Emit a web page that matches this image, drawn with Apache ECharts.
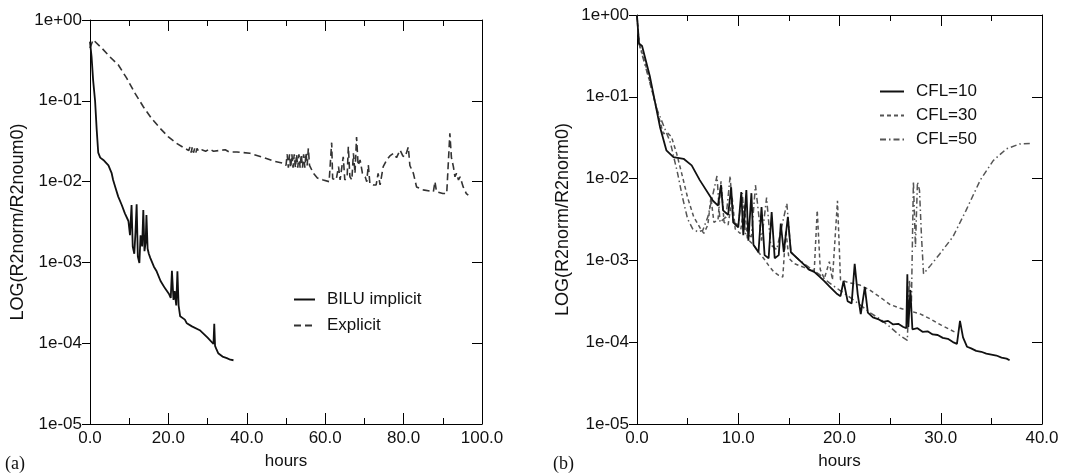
<!DOCTYPE html>
<html><head><meta charset="utf-8">
<script src="https://cdn.jsdelivr.net/npm/echarts@6/dist/echarts.min.js"></script>
<style>html,body{margin:0;padding:0;background:#fff}.c{position:absolute;left:0;top:0;width:1069px;height:475px}</style>
</head><body><div class="c" id="axes"></div><div class="c" id="plot"></div>
<script>
// ---------- tick labels ----------
const yTickLabels = ['1e-05','1e-04','1e-03','1e-02','1e-01','1e+00'];
const xTickLabelsA = ['0.0','20.0','40.0','60.0','80.0','100.0'];
const xTickLabelsB = ['0.0','10.0','20.0','30.0','40.0'];

// ---------- panel (a): [hours, residual] ----------
const biluImplicit = [
 [0,0.54],[0.4,0.35],[0.8,0.18],[1.3,0.10],[1.7,0.045],[2.1,0.023],[2.6,0.020],[3.4,0.0187],[3.8,0.018],
 [4.7,0.016],[5.5,0.013],[5.9,0.0106],[6.5,0.0085],[7.2,0.0066],[8.1,0.0052],[8.9,0.0041],[9.8,0.0033],
 [10.2,0.0022],[10.6,0.0052],[10.9,0.0016],[11.3,0.0013],[11.6,0.0024],[11.9,0.0053],[12.2,0.0012],
 [12.6,0.0010],[12.9,0.0022],[13.3,0.0016],[13.6,0.0045],[13.9,0.0014],[14.2,0.0018],[14.4,0.0039],
 [14.7,0.0015],[15.0,0.0013],[15.4,0.00115],[15.8,0.0011],[16.3,0.0009],[17.0,0.00079],[18.0,0.0006],
 [19.1,0.00049],[20.2,0.00041],[20.6,0.00037],[20.9,0.0008],[21.3,0.00035],[21.6,0.00045],[22.0,0.0003],
 [22.3,0.00079],[22.6,0.0003],[23.0,0.00022],[24.2,0.0002],[24.7,0.00018],[26.0,0.000165],[28.0,0.000148],
 [30.0,0.00012],[31.5,0.0001],[31.7,0.000178],[31.9,0.000095],[32.3,0.000085],[32.7,0.000077],
 [33.8,0.00007],[34.9,0.000067],[35.8,0.000064],[36.6,0.000063]
];
const explicitRes = [
 [0,0.45],[0.8,0.57],[3.0,0.45],[5.1,0.35],[7.2,0.28],[9.4,0.19],[11.5,0.124],[13.6,0.085],[15.7,0.061],
 [17.9,0.046],[20.0,0.036],[22.1,0.030],[24.2,0.026],[25.2,0.0245],[25.5,0.027],[25.8,0.023],[26.1,0.027],
 [26.4,0.023],[26.7,0.026],[27.0,0.023],[27.3,0.026],[27.7,0.024],[28.5,0.025],[29.5,0.024],[30.5,0.0255],
 [31.5,0.024],[33.0,0.0245],[34.5,0.025],[35.5,0.0235],[37.5,0.0235],[40.8,0.0226],[43.0,0.021],
 [45.0,0.0195],[47.0,0.018],[49.3,0.017],[50.0,0.016],[50.3,0.022],[50.6,0.015],[50.9,0.022],[51.2,0.015],
 [51.5,0.022],[51.8,0.015],[52.1,0.022],[52.4,0.015],[52.7,0.022],[53.0,0.015],[53.3,0.022],[53.6,0.015],
 [53.9,0.022],[54.2,0.015],[54.5,0.022],[54.8,0.015],[55.1,0.023],[55.4,0.016],[55.7,0.026],[56.0,0.016],
 [57.0,0.0128],[58.0,0.0112],[59.5,0.0106],[61.0,0.0101],[61.5,0.0106],[61.65,0.0306],[61.9,0.011],
 [62.8,0.0106],[63.4,0.0155],[63.8,0.0106],[64.3,0.0101],[64.6,0.0205],[65.0,0.0106],[65.6,0.0116],
 [65.9,0.0273],[66.3,0.0116],[66.8,0.0106],[67.2,0.0226],[67.6,0.0128],[68.0,0.036],[68.4,0.016],
 [68.9,0.0187],[69.5,0.0128],[70.2,0.0116],[70.6,0.0101],[71.0,0.0162],[71.4,0.0095],[72.3,0.0092],
 [73.0,0.0092],[73.5,0.0128],[74.0,0.0092],[74.8,0.0155],[75.7,0.0187],[76.5,0.021],[77.4,0.0226],
 [78.2,0.020],[79.1,0.0248],[79.8,0.021],[80.4,0.0205],[81.2,0.027],[81.6,0.016],[82.5,0.0128],
 [83.3,0.0087],[85.0,0.008],[87.6,0.0076],[88.0,0.0101],[88.4,0.0076],[90.0,0.0072],[91.0,0.0072],
 [91.8,0.040],[92.2,0.020],[92.7,0.0155],[93.1,0.0116],[93.5,0.0128],[94.0,0.0106],[94.4,0.0116],
 [95.2,0.0087],[96.0,0.0072],[96.5,0.0069]
];

// ---------- panel (b): [hours, residual] ----------
const cfl10 = [
 [0,0.98],[0.2,0.45],[0.5,0.42],[1.28,0.177],[2.27,0.0435],[2.9,0.0226],[3.6,0.0187],[4.6,0.0178],
 [5.4,0.0148],[6.2,0.0098],[7.5,0.0055],[8.0,0.0048],[8.3,0.0085],[8.5,0.0042],[9.0,0.0037],[9.3,0.0080],
 [9.5,0.0030],[10.0,0.0026],[10.3,0.0070],[10.5,0.0021],[10.8,0.0074],[11.0,0.0018],[11.3,0.0068],
 [11.5,0.0016],[12.0,0.0013],[12.3,0.0046],[12.6,0.0012],[13.0,0.0011],[13.3,0.0040],[13.6,0.0011],
 [14.0,0.0012],[14.2,0.0029],[14.5,0.0013],[14.9,0.0035],[15.2,0.0013],[16.0,0.00105],[16.5,0.00092],
 [17.0,0.0008],[17.5,0.00075],[18.0,0.00066],[18.5,0.00058],[19.0,0.0005],[19.7,0.00041],[20.1,0.00038],
 [20.4,0.00058],[20.8,0.00033],[21.2,0.00031],[21.5,0.00094],[21.8,0.0004],[22.1,0.00023],[22.5,0.00049],
 [22.8,0.00024],[23.3,0.00021],[23.8,0.0002],[24.3,0.000185],[24.8,0.00019],[25.3,0.000172],
 [25.8,0.000175],[26.3,0.00016],[26.6,0.000155],[26.7,0.0007],[26.8,0.00016],[27.0,0.00045],
 [27.2,0.00015],[27.7,0.000155],[28.2,0.00014],[28.7,0.000142],[29.2,0.00013],[29.7,0.000128],
 [30.2,0.000118],[30.7,0.000115],[31.2,0.000105],[31.6,0.0001],[31.9,0.00019],[32.2,0.00012],
 [32.6,0.000092],[33.0,0.000088],[33.5,0.000082],[34.0,0.00008],[34.5,0.000076],[35.0,0.000074],
 [35.5,0.000072],[36.0,0.000068],[36.5,0.000066],[36.8,0.000063]
];
const cfl30 = [
 [0,0.98],[0.2,0.45],[0.8,0.26],[1.9,0.075],[2.6,0.036],[3.0,0.037],[3.4,0.033],[3.9,0.021],[4.4,0.012],
 [5.0,0.006],[5.6,0.0035],[6.2,0.0026],[6.6,0.0022],[7.0,0.0028],[7.3,0.006],[7.6,0.003],[8.0,0.0032],
 [8.3,0.0095],[8.6,0.003],[9.0,0.0028],[9.4,0.006],[9.7,0.0025],[10.2,0.0022],[10.6,0.005],[10.9,0.0019],
 [11.5,0.0016],[12.0,0.0013],[12.5,0.0011],[13.0,0.0009],[13.5,0.00075],[14.0,0.00068],[14.4,0.00065],
 [14.7,0.0024],[15.0,0.0011],[15.5,0.00095],[16.5,0.00085],[17.5,0.00075],[17.8,0.0042],[18.1,0.0008],
 [18.5,0.00062],[19.0,0.001],[19.3,0.0006],[19.8,0.0055],[20.1,0.0006],[21.0,0.00055],[22.0,0.00052],
 [23.0,0.00045],[24.0,0.00037],[25.0,0.0003],[26.0,0.00027],[27.0,0.00025],[28.0,0.00023],[29.0,0.0002],
 [30.0,0.00017],[31.6,0.000135]
];
const cfl50 = [
 [0,0.98],[0.2,0.45],[1.0,0.2],[2.0,0.07],[2.8,0.04],[3.3,0.028],[4.0,0.012],[4.5,0.006],[5.0,0.0033],
 [5.5,0.0025],[6.0,0.0023],[6.5,0.0024],[7.0,0.0035],[7.9,0.011],[8.2,0.003],[8.8,0.0035],[9.2,0.011],
 [9.5,0.003],[10.0,0.0028],[10.4,0.0068],[10.7,0.0022],[11.3,0.002],[11.7,0.0085],[12.3,0.0018],
 [12.8,0.006],[13.2,0.0016],[13.8,0.0014],[14.8,0.0051],[15.2,0.0013],[16.0,0.00105],[17.0,0.00085],
 [18.0,0.0007],[19.0,0.00055],[20.0,0.00045],[21.0,0.00037],[22.0,0.0003],[23.0,0.00024],[24.0,0.0002],
 [25.0,0.00016],[26.0,0.000125],[26.7,0.00011],[26.9,0.0006],[27.1,0.0003],[27.3,0.0095],[27.5,0.0015],
 [27.7,0.0093],[27.9,0.0074],[28.1,0.002],[28.3,0.00071],[29.0,0.0009],[29.9,0.00124],[31.2,0.002],
 [32.5,0.0042],[33.9,0.0098],[35.2,0.017],[36.5,0.0236],[37.8,0.027],[39.0,0.0275]
];

const FONT = 'Liberation Sans, Arial, sans-serif';
const BLACK = {color:'#000', width:1, type:'solid'};
const yFmt = v => yTickLabels[Math.round(Math.log10(v)) + 5];
const GRIDS = [
  {left:90, top:20, width:392, height:405},
  {left:637, top:15, width:405, height:411}
];
const RANGES = [{max:100, interval:20, labels:xTickLabelsA}, {max:40, interval:10, labels:xTickLabelsB}];

// ===== layer 1: frame, ticks, labels (no series) =====
function xAxes(grid) {
  const r = RANGES[grid];
  return [
    { type:'value', gridIndex:grid, min:0, max:r.max, interval:r.interval, position:'bottom',
      axisLine:{show:true, onZero:false, lineStyle:BLACK},
      axisTick:{show:true, inside:true, length:11, lineStyle:BLACK},
      minorTick:{show:true, splitNumber:2, length:6, lineStyle:BLACK},
      splitLine:{show:false}, minorSplitLine:{show:false},
      axisLabel:{show:true, margin:6, color:'#111', fontSize:17, fontFamily:FONT,
        formatter: v => r.labels[Math.round(v/r.interval)]},
      name:'hours', nameLocation:'middle', nameGap:29,
      nameTextStyle:{color:'#111', fontSize:17, fontFamily:FONT} },
    { type:'value', gridIndex:grid, min:0, max:r.max, interval:r.interval, position:'top',
      axisLine:{show:true, onZero:false, lineStyle:BLACK},
      axisTick:{show:true, inside:true, length:11, lineStyle:BLACK},
      minorTick:{show:true, splitNumber:2, length:6, lineStyle:BLACK},
      splitLine:{show:false}, minorSplitLine:{show:false}, axisLabel:{show:false} }
  ];
}
function yAxes(grid, title, gap) {
  return [
    { type:'log', logBase:10, gridIndex:grid, min:1e-5, max:1, position:'left',
      axisLine:{show:true, onZero:false, lineStyle:BLACK},
      axisTick:{show:true, length:8, lineStyle:BLACK},
      splitLine:{show:false},
      axisLabel:{show:true, margin:8, color:'#111', fontSize:17, fontFamily:FONT, formatter:yFmt},
      name:title, nameLocation:'middle', nameGap:gap,
      nameTextStyle:{color:'#111', fontSize:18, fontFamily:FONT} },
    { type:'log', logBase:10, gridIndex:grid, min:1e-5, max:1, position:'right',
      axisLine:{show:true, onZero:false, lineStyle:BLACK},
      axisTick:{show:true, inside:true, length:10, lineStyle:BLACK},
      splitLine:{show:false}, axisLabel:{show:false} }
  ];
}
const axesOption = {
  animation:false,
  backgroundColor:'#fff',
  grid:GRIDS,
  xAxis:[...xAxes(0), ...xAxes(1)],
  yAxis:[...yAxes(0,'LOG(R2norm/R2noum0)',63), ...yAxes(1,'LOG(R2norm/R2norm0)',65)],
  graphic:[
    {type:'text', left:5, top:455, style:{text:'(a)', font:'18px "Liberation Serif", serif', fill:'#111'}},
    {type:'text', left:553, top:455, style:{text:'(b)', font:'18px "Liberation Serif", serif', fill:'#111'}}
  ],
  series:[]
};
echarts.init(document.getElementById('axes')).setOption(axesOption);

// ===== layer 2: the curves and legends, on the same scales =====
function hiddenX(grid) {
  const r = RANGES[grid];
  return { type:'value', gridIndex:grid, min:0, max:r.max, interval:r.interval, show:false };
}
function hiddenY(grid) {
  return { type:'log', logBase:10, gridIndex:grid, min:1e-5, max:1, show:false };
}
function line(name, data, gi, color, width, type) {
  return { name, type:'line', data, xAxisIndex:gi, yAxisIndex:gi, symbol:'none',
    lineStyle:{color, width, type} };
}
const legendCommon = {
  orient:'vertical', padding:0, itemHeight:14, itemStyle:{opacity:0},
  textStyle:{color:'#111', fontSize:17, fontFamily:FONT, padding:[0,0,0,7]}
};
const plotOption = {
  animation:false,
  backgroundColor:'transparent',
  grid:GRIDS,
  xAxis:[hiddenX(0), hiddenX(1)],
  yAxis:[hiddenY(0), hiddenY(1)],
  legend:[
    Object.assign({}, legendCommon, { data:['BILU implicit','Explicit'], left:293, top:291,
      itemWidth:21, itemGap:9 }),
    Object.assign({}, legendCommon, { data:['CFL=10','CFL=30','CFL=50'], left:879, top:83,
      itemWidth:24, itemGap:7 })
  ],
  series:[
    line('Explicit', explicitRes, 0, '#333', 1.6, [7,4]),
    line('BILU implicit', biluImplicit, 0, '#111', 1.8, 'solid'),
    line('CFL=50', cfl50, 1, '#555', 1.5, [6,3,1.5,3]),
    line('CFL=30', cfl30, 1, '#555', 1.5, [4,3]),
    line('CFL=10', cfl10, 1, '#111', 1.8, 'solid')
  ]
};
echarts.init(document.getElementById('plot')).setOption(plotOption);
</script></body></html>
